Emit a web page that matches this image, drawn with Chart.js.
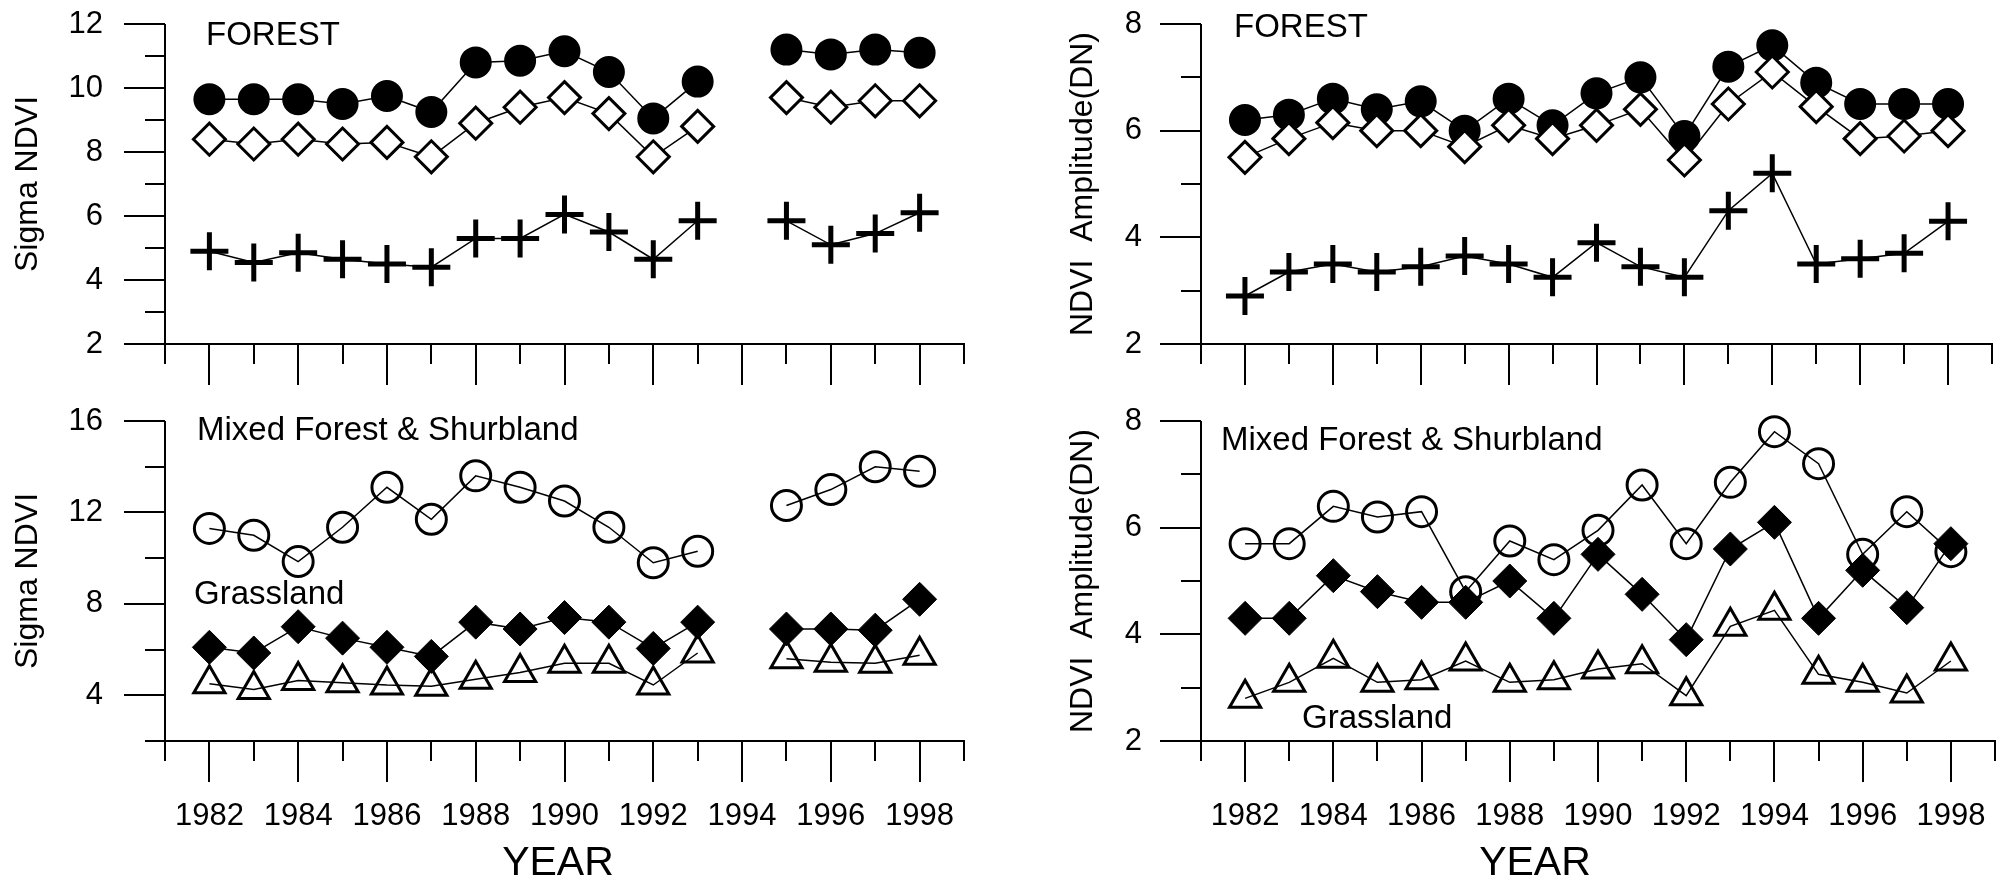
<!DOCTYPE html>
<html>
<head>
<meta charset="utf-8">
<script src="https://cdn.jsdelivr.net/npm/chart.js@4.4.1/dist/chart.umd.min.js"></script>
<style>
  body { margin: 0; background: #fff; width: 2016px; height: 884px; overflow: hidden; }
  canvas { position: absolute; }
</style>
</head>
<body>
<canvas id="sigmaForest" width="1000" height="400" style="left:0;top:0"></canvas>
<canvas id="ampForest" width="1016" height="400" style="left:1000px;top:0"></canvas>
<canvas id="sigmaMixed" width="1000" height="484" style="left:0;top:400px"></canvas>
<canvas id="ampMixed" width="1016" height="484" style="left:1000px;top:400px"></canvas>
<script>
const years = [1982, 1983, 1984, 1985, 1986, 1987, 1988, 1989, 1990, 1991, 1992, 1993, 1994, 1995, 1996, 1997, 1998];
const xLabelYears = [1982, 1984, 1986, 1988, 1990, 1992, 1994, 1996, 1998];

// top left - Sigma NDVI, forest (1994 missing)
const sigmaForestCircle = [9.65, 9.65, 9.65, 9.5, 9.75, 9.25, 10.8, 10.85, 11.15, 10.5, 9.05, 10.2, null, 11.2, 11.05, 11.2, 11.1];
const sigmaForestDiamond = [8.4, 8.25, 8.4, 8.25, 8.3, 7.85, 8.9, 9.4, 9.7, 9.2, 7.85, 8.8, null, 9.7, 9.4, 9.6, 9.6];
const sigmaForestCross = [4.9, 4.55, 4.85, 4.65, 4.5, 4.4, 5.3, 5.3, 6.05, 5.5, 4.65, 5.85, null, 5.85, 5.1, 5.45, 6.1];

// top right - NDVI amplitude, forest
const ampForestCircle = [6.2, 6.3, 6.6, 6.4, 6.55, 6.0, 6.6, 6.1, 6.7, 7.0, 5.9, 7.2, 7.6, 6.9, 6.5, 6.5, 6.5];
const ampForestDiamond = [5.5, 5.85, 6.15, 6.0, 6.0, 5.7, 6.1, 5.85, 6.1, 6.4, 5.45, 6.5, 7.1, 6.45, 5.85, 5.9, 6.0];
const ampForestCross = [2.9, 3.35, 3.5, 3.35, 3.45, 3.65, 3.5, 3.25, 3.9, 3.45, 3.25, 4.5, 5.2, 3.5, 3.6, 3.7, 4.3];

// bottom left - Sigma NDVI, mixed forest & shrubland / grassland
const sigmaMixedCircle = [11.3, 11.0, 9.85, 11.35, 13.1, 11.7, 13.6, 13.1, 12.5, 11.35, 9.8, 10.3, null, 12.3, 13.0, 14.0, 13.8];
const sigmaGrassDiamond = [6.1, 5.85, 7.0, 6.5, 6.1, 5.7, 7.2, 6.9, 7.4, 7.2, 6.05, 7.2, null, 6.9, 6.9, 6.85, 8.2];
const sigmaGrassTriangle = [4.5, 4.25, 4.65, 4.55, 4.45, 4.4, 4.7, 5.0, 5.4, 5.4, 4.45, 5.85, null, 5.6, 5.45, 5.4, 5.75];

// bottom right - NDVI amplitude, mixed forest & shrubland / grassland
const ampMixedCircle = [5.7, 5.7, 6.4, 6.2, 6.3, 4.8, 5.75, 5.4, 5.95, 6.8, 5.7, 6.85, 7.8, 7.2, 5.5, 6.3, 5.55];
const ampGrassDiamond = [4.3, 4.3, 5.1, 4.8, 4.6, 4.6, 5.0, 4.3, 5.5, 4.75, 3.9, 5.6, 6.1, 4.3, 5.2, 4.5, 5.7];
const ampGrassTriangle = [2.8, 3.1, 3.55, 3.1, 3.15, 3.5, 3.1, 3.15, 3.35, 3.45, 2.85, 4.15, 4.45, 3.25, 3.1, 2.9, 3.5];

const sigmaForestYLabels = [2, 4, 6, 8, 10, 12];
const ampYLabels = [2, 4, 6, 8];
const sigmaMixedYLabels = [4, 8, 12, 16];

const FONT = "'Liberation Sans', Arial, sans-serif";

// marker looks
const styles = {
  circle: { pointStyle: 'circle', pointRadius: 15, pointBorderWidth: 2, pointBackgroundColor: '#000' },
  openCircle: { pointStyle: 'circle', pointRadius: 15, pointBorderWidth: 3, pointBackgroundColor: 'rgba(0,0,0,0)' },
  diamond: { pointStyle: 'rectRot', pointRadius: 16, pointBorderWidth: 3, pointBackgroundColor: '#fff' },
  fullDiamond: { pointStyle: 'rectRot', pointRadius: 17, pointBorderWidth: 1, pointBackgroundColor: '#000' },
  cross: { pointStyle: 'cross', pointRadius: 19, pointBorderWidth: 5, pointBackgroundColor: '#000' },
  triangle: { pointStyle: 'triangle', pointRadius: 18, pointBorderWidth: 3, pointBackgroundColor: 'rgba(0,0,0,0)' }
};

function series(values, style) {
  return Object.assign({
    data: years.map((yr, i) => ({ x: yr, y: values[i] })),
    borderColor: '#000',
    borderWidth: 1.5,
    pointBorderColor: '#000',
    spanGaps: false,
    tension: 0,
    clip: false
  }, styles[style]);
}

// axis lines + long/short tick marks, drawn through the chart scales
const axisTicks = {
  id: 'axisTicks',
  beforeDatasetsDraw(chart, args, opts) {
    const { ctx, chartArea: a, scales: { x, y } } = chart;
    ctx.save();
    ctx.strokeStyle = '#000';
    ctx.lineWidth = 2;
    ctx.beginPath();
    ctx.moveTo(a.left, a.top); ctx.lineTo(a.left, a.bottom);
    ctx.moveTo(a.left - 1, a.bottom); ctx.lineTo(a.right + 1, a.bottom);
    for (let v = x.min; v <= x.max; v++) {
      const px = Math.round(x.getPixelForValue(v));
      ctx.moveTo(px, a.bottom);
      ctx.lineTo(px, a.bottom + (v % 2 === 0 ? 41 : 20));
    }
    for (let v = y.min; v <= y.max; v += opts.minor) {
      const py = Math.round(y.getPixelForValue(v));
      ctx.moveTo(a.left, py);
      ctx.lineTo(a.left - (v % opts.major === 0 ? 41 : 20), py);
    }
    ctx.stroke();
    ctx.restore();
  },
  afterDraw(chart, args, opts) {
    const ctx = chart.ctx;
    ctx.save();
    ctx.fillStyle = '#000';
    ctx.textBaseline = 'alphabetic';
    (opts.texts || []).forEach(t => {
      ctx.font = t.size + 'px ' + FONT;
      ctx.textAlign = t.align || 'left';
      ctx.fillText(t.text, t.x, t.y);
    });
    ctx.restore();
  }
};

// the big tick paddings must not shrink the plot area
function noScalePadding(s) {
  s.paddingTop = 0; s.paddingBottom = 0; s.paddingLeft = 0; s.paddingRight = 0;
}

function makePanel(id, cfg) {
  const canvas = document.getElementById(id);
  return new Chart(canvas, {
    type: 'line',
    data: { datasets: cfg.datasets },
    options: {
      responsive: false,
      animation: false,
      events: [],
      layout: { padding: { left: 0, top: cfg.top, right: cfg.right, bottom: 0 } },
      plugins: {
        legend: { display: false },
        tooltip: { enabled: false },
        axisTicks: { minor: cfg.minor, major: cfg.major, texts: cfg.texts }
      },
      scales: {
        x: {
          type: 'linear', min: 1981, max: 1999,
          grid: { display: false, drawTicks: false },
          border: { display: false },
          ticks: {
            display: cfg.showYears, stepSize: 1, autoSkip: false, maxRotation: 0,
            padding: 57, color: '#000', font: { size: 31, family: FONT },
            callback: v => xLabelYears.includes(v) ? String(v) : ''
          },
          afterFit: s => { s.height = cfg.xHeight; noScalePadding(s); }
        },
        y: {
          type: 'linear', min: cfg.yMin, max: cfg.yMax,
          grid: { display: false, drawTicks: false },
          border: { display: false },
          ticks: {
            stepSize: cfg.minor, autoSkip: false, padding: cfg.tickPad, color: '#000',
            font: { size: 31, family: FONT },
            callback: v => cfg.yLabels.includes(v) ? String(v) : ''
          },
          title: {
            display: true, text: cfg.yTitle, color: '#000',
            font: { size: 32, family: FONT }, padding: { top: cfg.titlePad }
          },
          afterFit: s => { s.width = cfg.yWidth; noScalePadding(s); }
        }
      }
    },
    plugins: [axisTicks]
  });
}

makePanel('sigmaForest', {
  datasets: [
    series(sigmaForestCross, 'cross'),
    series(sigmaForestDiamond, 'diamond'),
    series(sigmaForestCircle, 'circle')
  ],
  yMin: 2, yMax: 12, minor: 1, major: 2, yLabels: sigmaForestYLabels,
  yTitle: 'Sigma NDVI', titlePad: 9, tickPad: 62, yWidth: 165,
  top: 24, right: 36, xHeight: 56, showYears: false,
  texts: [{ text: 'FOREST', x: 206, y: 45, size: 33 }]
});

makePanel('ampForest', {
  datasets: [
    series(ampForestCross, 'cross'),
    series(ampForestDiamond, 'diamond'),
    series(ampForestCircle, 'circle')
  ],
  yMin: 2, yMax: 8, minor: 1, major: 2, yLabels: ampYLabels,
  yTitle: 'NDVI  Amplitude(DN)', titlePad: 64, tickPad: 59, yWidth: 201,
  top: 24, right: 15, xHeight: 56, showYears: false,
  texts: [{ text: 'FOREST', x: 234, y: 37, size: 33 }]
});

makePanel('sigmaMixed', {
  datasets: [
    series(sigmaGrassTriangle, 'triangle'),
    series(sigmaGrassDiamond, 'fullDiamond'),
    series(sigmaMixedCircle, 'openCircle')
  ],
  yMin: 2, yMax: 16, minor: 2, major: 4, yLabels: sigmaMixedYLabels,
  yTitle: 'Sigma NDVI', titlePad: 9, tickPad: 62, yWidth: 165,
  top: 21, right: 36, xHeight: 143, showYears: true,
  texts: [
    { text: 'Mixed Forest & Shurbland', x: 197, y: 40, size: 33 },
    { text: 'Grassland', x: 194, y: 204, size: 33 },
    { text: 'YEAR', x: 558, y: 475, size: 41, align: 'center' }
  ]
});

makePanel('ampMixed', {
  datasets: [
    series(ampGrassTriangle, 'triangle'),
    series(ampGrassDiamond, 'fullDiamond'),
    series(ampMixedCircle, 'openCircle')
  ],
  yMin: 2, yMax: 8, minor: 1, major: 2, yLabels: ampYLabels,
  yTitle: 'NDVI  Amplitude(DN)', titlePad: 64, tickPad: 59, yWidth: 201,
  top: 21, right: 15, xHeight: 143, showYears: true,
  texts: [
    { text: 'Mixed Forest & Shurbland', x: 221, y: 50, size: 33 },
    { text: 'Grassland', x: 302, y: 328, size: 33 },
    { text: 'YEAR', x: 535, y: 475, size: 41, align: 'center' }
  ]
});
</script>
</body>
</html>
